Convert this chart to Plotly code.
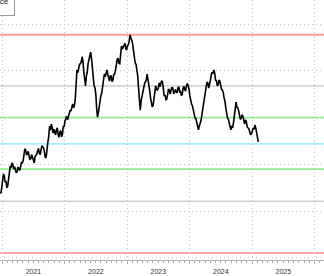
import pandas as pd
import plotly.graph_objects as go

# ---- data ----
start_date = "2020-12-19"
step = "5D"
price = [
    24.1, 23.8, 25.0, 26.9, 28.0, 27.6, 26.2, 26.4, 25.0, 25.4,
    27.1, 28.9, 29.7, 29.3, 30.3, 30.0, 29.0, 29.5, 28.8, 28.2,
    28.4, 29.4, 29.2, 28.7, 29.4, 30.4, 30.3, 30.7, 32.0, 33.3,
    33.1, 32.0, 32.2, 32.8, 31.8, 31.1, 31.2, 32.1, 31.6, 30.5,
    30.3, 31.7, 32.0, 32.2, 32.9, 33.4, 32.4, 32.1, 33.1, 34.0,
    33.7, 33.5, 32.6, 31.4, 31.6, 33.8, 34.8, 36.0, 38.2, 37.3,
    38.6, 37.9, 36.7, 37.5, 36.7, 36.3, 37.4, 37.8, 36.3, 35.8,
    36.9, 37.2, 35.9, 36.4, 38.2, 38.0, 39.3, 40.1, 40.3, 39.5,
    40.1, 41.2, 41.6, 41.4, 42.3, 42.9, 42.1, 42.5, 44.0, 47.8,
    50.2, 49.6, 50.6, 51.4, 51.5, 51.9, 53.0, 52.0, 49.7, 47.6,
    46.8, 48.9, 49.7, 51.6, 52.3, 52.9, 54.0, 52.6, 50.6, 48.2,
    46.8, 46.4, 45.0, 42.0, 40.1, 41.0, 42.5, 44.1, 44.8, 45.3,
    46.8, 48.6, 49.3, 48.7, 49.7, 50.2, 49.3, 48.1, 47.8, 48.9,
    48.9, 47.7, 48.0, 49.2, 49.3, 50.1, 51.7, 52.5, 52.7, 51.6,
    51.5, 54.0, 55.3, 54.6, 55.1, 55.8, 55.9, 54.8, 54.4, 55.4,
    55.5, 56.3, 57.7, 57.0, 56.6, 55.8, 54.4, 52.5, 51.7, 51.4,
    50.4, 48.9, 46.3, 43.5, 41.6, 43.6, 44.8, 45.0, 46.3, 47.3,
    47.6, 48.0, 49.3, 48.4, 46.8, 45.8, 44.2, 43.5, 42.3, 42.6,
    43.8, 45.6, 46.8, 46.0, 45.9, 46.2, 47.4, 46.6, 47.2, 47.9,
    47.6, 46.5, 44.6, 44.8, 43.8, 43.9, 45.3, 46.1, 45.9, 45.0,
    45.9, 46.5, 46.3, 45.2, 45.3, 46.0, 45.5, 45.3, 46.3, 46.6,
    45.5, 45.6, 44.8, 44.9, 46.3, 46.7, 45.9, 45.8, 46.8, 47.3,
    46.8, 46.1, 44.6, 43.3, 42.9, 42.5, 41.6, 40.3, 39.9, 39.8,
    39.1, 38.0, 37.4, 38.2, 38.6, 39.3, 40.6, 42.0, 42.7, 44.3,
    46.3, 46.5, 47.6, 47.4, 46.3, 46.9, 48.0, 49.1, 49.7, 49.4,
    50.2, 49.5, 48.0, 47.9, 46.8, 47.0, 48.0, 47.8, 46.8, 46.0,
    45.9, 45.4, 44.2, 43.5, 42.1, 40.6, 39.9, 39.6, 38.6, 37.6,
    37.4, 38.2, 37.8, 39.0, 40.8, 42.5, 43.3, 42.2, 42.1, 41.5,
    40.3, 39.6, 39.9, 40.6, 40.3, 39.0, 38.6, 39.5, 39.1, 38.0,
    37.8, 37.6, 36.9, 36.4, 36.5, 37.4, 37.8, 37.5, 38.4, 37.8,
    36.5, 35.3, 34.8,
]
level_values = [57.7, 46.8, 40.0, 34.4, 29.0, 22.1, 11.1]
level_colors = ["#ff9c9c", "#d4d4d4", "#8ef08e", "#a8eefa", "#8ef08e", "#d4d4d4", "#ff9c9c"]
x_range = ["2020-12-19", "2026-02-25"]
y_range = [9.57, 65.13]
series_name = "Price"

dates = pd.date_range(start=start_date, periods=len(price), freq=step)

fig = go.Figure()
fig.add_trace(go.Scatter(x=dates, y=price, mode="lines", name=series_name,
                         line=dict(color="black", width=1.6), showlegend=True))

for val, col in zip(level_values, level_colors):
    fig.add_shape(type="line", xref="paper", x0=0, x1=1, yref="y", y0=val, y1=val,
                  line=dict(color=col, width=1.8), layer="between")

grid_dash = "1px,3px"

fig.update_layout(
    width=324, height=276,
    margin=dict(l=0, r=0, t=0, b=16, autoexpand=False),
    paper_bgcolor="white", plot_bgcolor="white",
    font=dict(family="Liberation Sans, Arial, sans-serif", size=7, color="#333"),
    showlegend=True,
    legend=dict(x=15/324, xanchor="right", y=1 - 16/260, yanchor="bottom",
                bordercolor="#999", borderwidth=1, bgcolor="white",
                font=dict(size=8, color="#222")),
    xaxis=dict(
        type="date", range=x_range, dtick="M12", tick0="2021-01-01",
        ticklabelmode="period", tickformat="%Y", ticklabelstandoff=2,
        showgrid=True, gridcolor="#c4c4c4", griddash=grid_dash, gridwidth=1,
        showline=True, linecolor="#b0b0b0", linewidth=1,
        ticks="outside", ticklen=3, tickcolor="#b0b0b0",
        minor=dict(dtick="M1", ticks="outside", ticklen=2, tickcolor="#aaaaaa", showgrid=False),
        zeroline=False, tickfont=dict(size=7, color="#333"),
    ),
    xaxis2=dict(
        type="date", range=x_range, overlaying="x", side="bottom", matches="x",
        dtick="M12", tick0="2021-01-01", ticks="outside", ticklen=16,
        tickcolor="#d8d8d8", showticklabels=False, showgrid=False, showline=False,
        zeroline=False,
    ),
    yaxis=dict(
        range=y_range, dtick=10, tick0=0, showticklabels=False,
        showgrid=True, gridcolor="#c4c4c4", griddash=grid_dash, gridwidth=1,
        zeroline=False, showline=False, ticks="",
    ),
)

fig.write_html("out.html", config={"displayModeBar": False})
